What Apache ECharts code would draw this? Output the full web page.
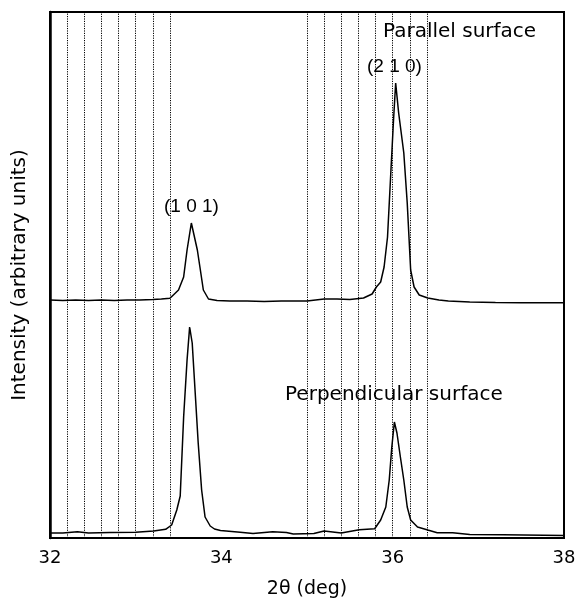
<!DOCTYPE html>
<html>
<head>
<meta charset="utf-8">
<script src="https://cdn.jsdelivr.net/npm/echarts@6/dist/echarts.min.js"></script>
<style>
  html, body { margin: 0; padding: 0; background: #fff; }
  #chart { width: 575px; height: 598px; }
</style>
</head>
<body>
<div id="chart"></div>
<script>
// XRD scans: 2θ (deg) and intensity (arbitrary units)
const parallelAngle = [32.00, 32.15, 32.30, 32.45, 32.60, 32.75, 32.90, 33.05, 33.20, 33.30, 33.40, 33.44, 33.50, 33.56, 33.60, 33.65, 33.72, 33.75, 33.79, 33.85, 33.95, 34.10, 34.30, 34.50, 34.70, 34.90, 35.00, 35.10, 35.20, 35.35, 35.50, 35.66, 35.76, 35.81, 35.86, 35.90, 35.94, 35.98, 36.01, 36.035, 36.07, 36.13, 36.17, 36.21, 36.25, 36.31, 36.41, 36.54, 36.65, 36.90, 37.20, 37.50, 37.80, 38.00];
const parallelIntensity = [238, 237.5, 238, 237.5, 238, 237.5, 238, 238, 238.5, 239, 239.7, 243, 248, 261, 288, 315, 288, 271, 248, 239, 237.5, 237, 237, 236.5, 237, 237, 237, 238, 239, 239, 238.5, 240, 244, 251, 256, 271, 301, 368, 418, 455, 425, 385, 335, 268, 251, 243, 240, 238, 237, 236, 235.5, 235.3, 235.3, 235.3];

const perpAngle = [32.00, 32.15, 32.32, 32.45, 32.70, 33.00, 33.21, 33.35, 33.42, 33.48, 33.52, 33.56, 33.60, 33.63, 33.66, 33.70, 33.73, 33.77, 33.81, 33.87, 33.92, 33.99, 34.22, 34.37, 34.60, 34.76, 34.84, 35.08, 35.20, 35.40, 35.61, 35.79, 35.86, 35.92, 35.96, 35.99, 36.02, 36.05, 36.09, 36.13, 36.17, 36.21, 36.29, 36.41, 36.52, 36.70, 36.90, 37.29, 38.00];
const perpIntensity = [5, 5, 6.3, 5, 5.5, 5.7, 7, 8.7, 13, 28, 42, 121, 178, 211, 195, 138, 95, 48, 21, 12, 9, 7.5, 5.7, 4.5, 6.3, 5.6, 4, 4.6, 7, 5, 8.3, 9.3, 18, 31, 58, 91, 116, 105, 81, 58, 31, 18, 11, 8, 5.3, 5.3, 3.6, 3.2, 2.6];

// reference angles drawn as dotted verticals
const referenceAngles = [32.2, 32.4, 32.6, 32.8, 33.0, 33.2, 33.4, 35.0, 35.2, 35.4, 35.6, 35.8, 36.0, 36.2, 36.4];

const xTicks = [32, 34, 36, 38];

const WIDE = '"DejaVu Sans", sans-serif';
const NARROW = '"Liberation Sans", Arial, sans-serif';
const chart = echarts.init(document.getElementById('chart'), null, { renderer: 'canvas' });

function pairs(xs, ys) { return xs.map((x, i) => [x, ys[i]]); }

chart.setOption({
  animation: false,
  backgroundColor: '#fff',
  grid: {
    left: 50, right: 11, top: 12, bottom: 60,
    outerBoundsMode: 'none', containLabel: false,
    show: true, borderColor: '#000', borderWidth: 2, backgroundColor: 'transparent'
  },
  xAxis: {
    type: 'value', min: xTicks[0], max: xTicks[xTicks.length - 1], interval: 2,
    name: '2θ (deg)', nameLocation: 'middle', nameGap: 42,
    nameTextStyle: { fontFamily: WIDE, fontSize: 19, color: '#000' },
    axisLine: { show: true, lineStyle: { color: '#000', width: 2 } },
    axisTick: { show: false },
    splitLine: { show: false },
    axisLabel: { fontFamily: WIDE, fontSize: 18, color: '#000', margin: 11,
      formatter: v => xTicks.includes(v) ? String(v) : '' }
  },
  yAxis: {
    type: 'value', min: 0, max: 526,
    name: 'Intensity (arbitrary units)', nameLocation: 'middle', nameGap: 20,
    nameTextStyle: { fontFamily: WIDE, fontSize: 20, color: '#000' },
    axisLine: { show: true, lineStyle: { color: '#000', width: 2.5 } },
    axisTick: { show: false },
    axisLabel: { show: false },
    splitLine: { show: false }
  },
  series: [
    {
      name: 'Parallel surface', type: 'line', showSymbol: false, silent: true,
      data: pairs(parallelAngle, parallelIntensity),
      lineStyle: { color: '#000', width: 1.5 },
      markLine: {
        silent: true, symbol: 'none', label: { show: false },
        lineStyle: { color: '#000', type: [1.2, 1.2], width: 1 },
        data: referenceAngles.map(a => ({ xAxis: a }))
      },
      z: 3
    },
    {
      name: 'Perpendicular surface', type: 'line', showSymbol: false, silent: true,
      data: pairs(perpAngle, perpIntensity),
      lineStyle: { color: '#000', width: 1.5 },
      z: 3
    }
  ],
  graphic: [
    { type: 'text', left: 383, top: 22, style: { text: 'Parallel surface', font: '20px ' + WIDE, fill: '#000' } },
    { type: 'text', left: 367, top: 57, style: { text: '(2 1 0)', font: '19px ' + NARROW, fill: '#000' } },
    { type: 'text', left: 164, top: 197, style: { text: '(1 0 1)', font: '19px ' + NARROW, fill: '#000' } },
    { type: 'text', left: 285, top: 385, style: { text: 'Perpendicular surface', font: '20px ' + WIDE, fill: '#000' } }
  ]
});
</script>
</body>
</html>
